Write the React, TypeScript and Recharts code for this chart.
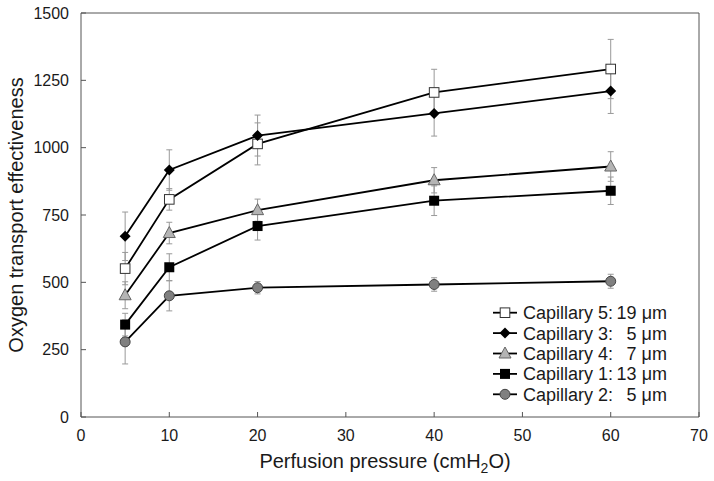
import React from 'react';
import {
  LineChart,
  Line,
  XAxis,
  YAxis,
  ErrorBar,
  Legend,
  Label
} from 'recharts';

// perfusion pressure, cmH2O
const pressures = [5, 10, 20, 40, 60];

const cap5 = [551, 808, 1014, 1205, 1292];
const cap5Err = [60, 40, 78, 86, 110];
const cap3 = [671, 917, 1045, 1127, 1210];
const cap3Err = [90, 75, 76, 84, 83];
const cap4 = [452, 683, 768, 879, 930];
const cap4Err = [50, 40, 41, 47, 55];
const cap1 = [343, 556, 709, 803, 840];
const cap1Err = [42, 50, 52, 55, 51];
const cap2 = [279, 450, 480, 492, 504];
const cap2Err = [82, 56, 23, 25, 26];

const xTicks = [0, 10, 20, 30, 40, 50, 60, 70];
const yTicks = [0, 250, 500, 750, 1000, 1250, 1500];

const legendRows = [
  { key: 'cap5', name: 'Capillary 5:', size: '19 μm' },
  { key: 'cap3', name: 'Capillary 3:', size: '5 μm' },
  { key: 'cap4', name: 'Capillary 4:', size: '7 μm' },
  { key: 'cap1', name: 'Capillary 1:', size: '13 μm' },
  { key: 'cap2', name: 'Capillary 2:', size: '5 μm' },
];

const data = pressures.map((p, i) => ({
  p,
  cap5: cap5[i], e5: cap5Err[i],
  cap3: cap3[i], e3: cap3Err[i],
  cap4: cap4[i], e4: cap4Err[i],
  cap1: cap1[i], e1: cap1Err[i],
  cap2: cap2[i], e2: cap2Err[i],
}));

const FONT = '"Liberation Sans", Arial, sans-serif';
const TEXT = '#1a1a1a';

function marker(kind: string, cx: number, cy: number, key?: string) {
  switch (kind) {
    case 'cap5':
      return <rect key={key} x={cx - 4.8} y={cy - 4.8} width={9.6} height={9.6} fill="#fff" stroke="#333" strokeWidth={1} />;
    case 'cap3':
      return <polygon key={key} points={`${cx},${cy - 5.5} ${cx + 5.5},${cy} ${cx},${cy + 5.5} ${cx - 5.5},${cy}`} fill="#000" />;
    case 'cap4':
      return <polygon key={key} points={`${cx},${cy - 6.5} ${cx + 6},${cy + 4.5} ${cx - 6},${cy + 4.5}`} fill="#b4b4b4" stroke="#666" strokeWidth={1} />;
    case 'cap1':
      return <rect key={key} x={cx - 5} y={cy - 5} width={10} height={10} fill="#000" />;
    default:
      return <circle key={key} cx={cx} cy={cy} r={5} fill="#808080" stroke="#444" strokeWidth={1} />;
  }
}

const dotFor = (kind: string) => (props: any) =>
  marker(kind, props.cx, props.cy, `${kind}-${props.index}`);

function LegendBox() {
  return (
    <svg width={200} height={110} style={{ display: 'block' }}>
      {legendRows.map((r, i) => {
        const cy = 12.7 + i * 20.4;
        return (
          <g key={r.key}>
            <line x1={3} x2={27} y1={cy} y2={cy} stroke="#000" strokeWidth={1.8} />
            {marker(r.key, 15, cy)}
            <text x={33} y={cy + 6.5} fontSize={18} fontFamily={FONT} fill={TEXT}>{r.name}</text>
            <text x={177} y={cy + 6.5} fontSize={18} fontFamily={FONT} fill={TEXT} textAnchor="end">{r.size}</text>
          </g>
        );
      })}
    </svg>
  );
}

const series = [
  { key: 'cap5', err: 'e5' },
  { key: 'cap3', err: 'e3' },
  { key: 'cap4', err: 'e4' },
  { key: 'cap1', err: 'e1' },
  { key: 'cap2', err: 'e2' },
];

export default function App() {
  const tickStyle = { fill: TEXT, fontSize: 16, fontFamily: FONT };
  return (
    <div style={{ position: 'absolute', left: 0, top: 0, background: '#fff' }}>
      <LineChart width={714} height={481} data={data} margin={{ top: 12, right: 14, bottom: 0, left: 0 }}>
        <XAxis
          dataKey="p"
          type="number"
          domain={[0, 70]}
          ticks={xTicks}
          height={64}
          stroke="#555"
          tickSize={-5}
          tickMargin={18}
          tick={tickStyle}
        >
          <Label
            content={(props: any) => {
              const vb = props.viewBox;
              return (
                <text x={vb.x + vb.width / 2 - 5} y={vb.y + 50.5} textAnchor="middle" fontSize={20} fontFamily={FONT} fill={TEXT}>
                  Perfusion pressure (cmH
                  <tspan fontSize={14} dy={5}>2</tspan>
                  <tspan dy={-5}>O)</tspan>
                </text>
              );
            }}
          />
        </XAxis>
        <XAxis
          xAxisId="top"
          orientation="top"
          type="number"
          domain={[0, 70]}
          ticks={xTicks}
          height={1}
          stroke="#555"
          tickSize={-5}
          tick={false}
        />
        <YAxis
          type="number"
          domain={[0, 1500]}
          ticks={yTicks}
          width={81}
          stroke="#555"
          tickSize={-5}
          tickMargin={17}
          tick={tickStyle}
        >
          <Label
            content={(props: any) => {
              const vb = props.viewBox;
              const cy = vb.y + vb.height / 2;
              const x = vb.x + 22.5;
              return (
                <text x={x} y={cy} transform={`rotate(-90 ${x} ${cy})`} textAnchor="middle" fontSize={20} fontFamily={FONT} fill={TEXT}>
                  Oxygen transport effectiveness
                </text>
              );
            }}
          />
        </YAxis>
        <YAxis
          yAxisId="right"
          orientation="right"
          type="number"
          domain={[0, 1500]}
          ticks={yTicks}
          width={1}
          stroke="#555"
          tickSize={-5}
          tick={false}
        />
        <Legend
          layout="vertical"
          align="center"
          verticalAlign="middle"
          content={() => <LegendBox />}
          wrapperStyle={{ position: 'absolute', left: 490, top: 300, width: 200, height: 110 }}
        />
        {series.map(s => (
          <Line
            key={s.key}
            dataKey={s.key}
            stroke="#000"
            strokeWidth={1.8}
            dot={dotFor(s.key)}
            activeDot={false}
            isAnimationActive={false}
          >
            <ErrorBar dataKey={s.err} direction="y" width={3} stroke="#999" strokeWidth={1} />
          </Line>
        ))}
      </LineChart>
    </div>
  );
}
